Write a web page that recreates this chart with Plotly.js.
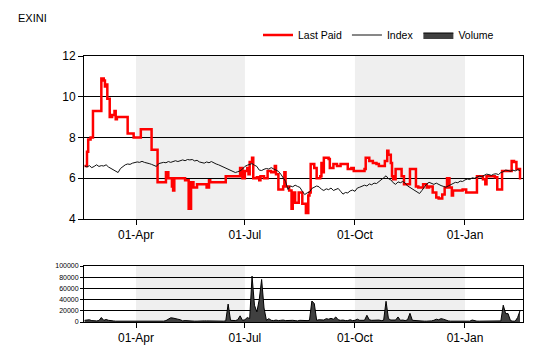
<!DOCTYPE html>
<html><head><meta charset="utf-8">
<script src="https://cdn.plot.ly/plotly-3.0.1.min.js"></script>
<style>html,body{margin:0;padding:0;background:#fff}#chart{width:540px;height:360px}</style>
</head><body><div id="chart"></div>
<script>
const chartTitle = 'EXINI';
const seriesNames = ['Last Paid', 'Index', 'Volume'];

const lastPaidDates = ['2015-02-17','2015-02-19','2015-02-20','2015-02-22','2015-02-24','2015-03-03','2015-03-05','2015-03-06','2015-03-07','2015-03-08',
'2015-03-10','2015-03-12','2015-03-14','2015-03-15','2015-03-16','2015-03-25','2015-03-30','2015-04-05','2015-04-14','2015-04-19',
'2015-04-26','2015-04-28','2015-05-01','2015-05-02','2015-05-03','2015-05-12','2015-05-15','2015-05-17','2015-05-19','2015-05-22',
'2015-05-30','2015-06-01','2015-06-02','2015-06-15','2015-06-27','2015-06-29','2015-07-01','2015-07-03','2015-07-04','2015-07-05',
'2015-07-07','2015-07-08','2015-07-11','2015-07-13','2015-07-14','2015-07-17','2015-07-20','2015-07-23','2015-07-26','2015-07-27',
'2015-07-29','2015-08-02','2015-08-03','2015-08-04','2015-08-07','2015-08-09','2015-08-10','2015-08-12','2015-08-15','2015-08-18',
'2015-08-21','2015-08-23','2015-08-24','2015-08-25','2015-08-28','2015-08-30','2015-09-02','2015-09-03','2015-09-04','2015-09-05',
'2015-09-09','2015-09-10','2015-09-13','2015-09-16','2015-09-19','2015-09-25','2015-09-28','2015-09-30','2015-10-09','2015-10-10',
'2015-10-13','2015-10-16','2015-10-19','2015-10-21','2015-10-26','2015-10-28','2015-10-29','2015-10-31','2015-11-01','2015-11-02',
'2015-11-04','2015-11-09','2015-11-11','2015-11-16','2015-11-21','2015-11-23','2015-11-27','2015-11-30','2015-12-02','2015-12-05',
'2015-12-08','2015-12-10','2015-12-13','2015-12-15','2015-12-17','2015-12-19','2015-12-21','2015-12-22','2015-12-30','2016-01-02',
'2016-01-11','2016-01-16','2016-01-18','2016-01-19','2016-01-26','2016-01-28','2016-02-01','2016-02-09','2016-02-11','2016-02-13',
'2016-02-16','2016-02-17'];
const lastPaidValues = [6.6,7.3,7.9,8.0,9.3,10.9,10.8,10.5,10.6,9.9,
9.0,9.1,9.3,8.9,9.0,8.2,8.0,8.4,7.4,5.8,
6.3,6.0,5.6,5.4,6.0,5.9,4.5,5.8,5.55,5.7,
5.55,5.9,5.8,6.1,6.5,6.0,6.35,6.5,6.2,6.8,
7.0,6.0,6.05,5.9,6.1,6.0,6.35,6.3,6.6,6.2,
5.45,5.6,6.3,5.6,5.4,4.5,5.3,4.8,5.3,4.75,
4.3,5.15,5.3,6.7,6.5,6.0,6.1,6.75,6.3,7.0,
6.95,6.5,6.7,6.6,6.7,6.45,6.5,6.35,6.45,7.0,
6.85,6.75,6.7,6.6,6.85,7.35,7.15,6.75,6.1,5.95,
6.45,6.1,5.7,6.45,5.6,5.55,5.7,5.55,5.6,5.3,
5.05,5.0,5.2,5.55,6.0,5.55,5.15,5.4,5.45,5.3,
6.1,5.95,5.7,6.1,6.05,5.45,6.35,6.85,6.8,6.45,
6.0,6.0];

// Index and volume are sampled every 2 days from the first date
const sampleStart = '2015-02-17';
const sampleStepDays = 2;
const indexValues = [6.60,6.55,6.62,6.52,6.58,6.66,6.58,6.62,6.60,6.66,
6.55,6.48,6.42,6.32,6.28,6.48,6.58,6.66,6.70,6.68,
6.74,6.76,6.80,6.78,6.83,6.78,6.76,6.72,6.68,6.62,
6.58,6.72,6.74,6.78,6.76,6.82,6.78,6.84,6.86,6.82,
6.88,6.90,6.86,6.92,6.90,6.92,6.85,6.88,6.80,6.78,
6.74,6.80,6.76,6.82,6.74,6.70,6.66,6.60,6.55,6.50,
6.44,6.38,6.34,6.28,6.32,6.36,6.45,6.58,6.64,6.70,
6.72,6.64,6.58,6.40,6.38,6.44,6.48,6.45,6.52,6.46,
6.40,6.34,6.20,6.05,5.85,5.45,5.62,5.58,5.66,5.60,
5.55,5.36,5.20,5.28,5.32,5.50,5.56,5.62,5.58,5.46,
5.40,5.48,5.44,5.52,5.40,5.46,5.50,5.36,5.22,5.30,
5.28,5.38,5.42,5.36,5.52,5.56,5.60,5.66,5.62,5.72,
5.68,5.76,5.74,5.82,5.90,6.02,6.12,5.98,5.92,5.78,
5.70,5.82,5.78,5.84,5.76,5.62,5.55,5.48,5.40,5.30,
5.25,5.40,5.55,5.72,5.80,5.74,5.70,5.76,5.68,5.64,
5.60,5.56,5.62,5.70,5.74,5.80,5.78,5.86,5.84,5.92,
5.96,5.94,6.02,6.00,6.06,6.10,6.08,6.16,6.20,6.18,
6.14,6.20,6.22,6.18,6.28,6.32,6.40,6.38,6.34,6.40,
6.36,6.42,6.38];
const volumeValues = [3000,3500,4000,2500,2000,2000,2500,8000,3000,4500,
3000,2000,2000,1500,1500,1800,1500,1500,1200,1500,
1200,1000,1200,1500,1200,1500,1200,1500,1500,1200,
1500,1500,1200,1500,2500,5000,7500,7000,6500,5000,
4000,2000,2500,2000,2500,2000,1500,1500,2000,1500,
2000,2000,1800,2000,1500,1500,1500,1500,1500,2000,
32000,3000,2500,2500,4000,11000,3000,4000,8000,6000,
82000,30000,18000,40000,76000,25000,3000,6000,3000,2500,
3500,2500,3000,3500,2500,3000,2500,3000,2500,2000,
3000,2500,2000,2500,3000,37500,33000,3000,4000,3500,
3500,6000,5000,6500,5000,9000,4000,3000,3500,2500,
2500,4000,2500,3000,5000,3000,3500,3000,12000,4000,
3000,3500,3000,3500,2500,3000,37000,6000,3500,3000,
3500,9000,3000,3500,2500,4000,15500,3000,2500,2000,
2000,1500,1500,1500,1500,2000,3000,5000,4000,6000,
5000,3000,2000,1500,1500,1500,1200,1500,1200,1500,
2000,1500,3500,2000,1500,1500,1500,2000,1500,2000,
1500,1500,1500,1500,2000,30000,15000,15000,2500,1500,
1500,8000,20000];

const xRange = ['2015-02-16 12:00', '2016-02-18 12:00'];
const tickDates = ['2015-04-01','2015-07-01','2015-10-01','2016-01-01'];
const tickLabels = ['01-Apr','01-Jul','01-Oct','01-Jan'];
const shadedStarts = ['2015-04-01','2015-10-01'];
const shadedEnds = ['2015-07-01','2016-01-01'];
const priceTicks = [4,6,8,10,12];
const volumeTicks = [0,20000,40000,60000,80000,100000];

const W = 540, H = 360;
const DAY = 86400000;
const FONT = 'Liberation Sans, Arial, sans-serif';

const traces = [
  {type:'scatter', mode:'lines', name:seriesNames[0], x:lastPaidDates, y:lastPaidValues,
   line:{color:'#ff0000', width:2.5, shape:'hv'}, xaxis:'x', yaxis:'y'},
  {type:'scatter', mode:'lines', name:seriesNames[1], x0:sampleStart, dx:sampleStepDays*DAY, y:indexValues,
   line:{color:'#111111', width:1}, xaxis:'x', yaxis:'y'},
  {type:'scatter', mode:'lines', name:seriesNames[2], x0:sampleStart, dx:sampleStepDays*DAY, y:volumeValues,
   fill:'tozeroy', fillcolor:'#404040', line:{color:'#000000', width:1}, xaxis:'x2', yaxis:'y2'}
];

const shapes = [];
shadedStarts.forEach((s, i) => {
  ['y domain','y2 domain'].forEach((yr, k) => {
    shapes.push({type:'rect', layer:'below', xref:k ? 'x2' : 'x', yref:yr, x0:s, x1:shadedEnds[i], y0:0, y1:1,
      fillcolor:'#efefef', line:{width:0}});
  });
});

const xDomain = [84/W, 523/W];
const commonX = {type:'date', range:xRange, tickvals:tickDates, ticktext:tickLabels, ticks:'outside', ticklen:5,
  tickcolor:'#000', showline:true, linecolor:'#000', linewidth:1, mirror:true, showgrid:false, zeroline:false,
  tickfont:{size:12, color:'#000', family:FONT}, domain:xDomain, fixedrange:true};

const layout = {
  width:W, height:H, margin:{l:0,r:0,t:0,b:0},
  paper_bgcolor:'#fff', plot_bgcolor:'#fff',
  font:{family:FONT, color:'#000', size:11},
  title:{text:chartTitle, x:18/W, xanchor:'left', y:1-18/H, yanchor:'middle', font:{size:11, color:'#000', family:FONT}},
  showlegend:true,
  legend:{orientation:'h', x:499/W, xanchor:'right', y:1-35/H, yanchor:'middle', font:{size:10.5, color:'#000'},
    bgcolor:'rgba(0,0,0,0)', itemwidth:30},
  xaxis:Object.assign({}, commonX, {anchor:'y'}),
  xaxis2:Object.assign({}, commonX, {anchor:'y2', matches:'x'}),
  yaxis:{domain:[1-219/H, 1-56/H], range:[4,12], tickvals:priceTicks, ticks:'outside', ticklen:5, tickcolor:'#000',
    showline:true, linecolor:'#000', linewidth:1, mirror:true, showgrid:true, gridcolor:'#000', gridwidth:1,
    zeroline:false, tickfont:{size:12, color:'#000', family:FONT}, fixedrange:true},
  yaxis2:{domain:[1-322/H, 1-266/H], range:[0,100000], tickvals:volumeTicks, tickformat:'d', ticks:'outside', ticklen:3,
    tickcolor:'#000', showline:true, linecolor:'#000', linewidth:1, mirror:true, showgrid:true, gridcolor:'#000', gridwidth:1,
    zeroline:false, tickfont:{size:7, color:'#000', family:FONT}, fixedrange:true},
  shapes:shapes
};

Plotly.newPlot('chart', traces, layout, {displayModeBar:false, staticPlot:true});
</script>
</body></html>
